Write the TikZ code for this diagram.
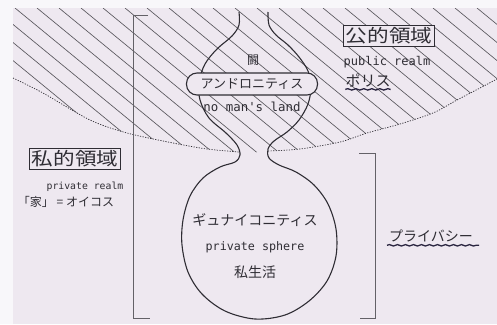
\documentclass[tikz,border=0pt]{standalone}
\usepackage{fontspec}
\setmonofont{DejaVu Sans Mono}
\newfontfamily\jp{Noto Sans CJK JP}
\newfontfamily\jpw[FakeStretch=1.2]{Noto Sans CJK JP}
\usetikzlibrary{decorations.pathmorphing}
\definecolor{paper}{HTML}{EEE8F0}
\definecolor{margin}{HTML}{F8F7FA}
\definecolor{ink}{HTML}{2F2D34}
\definecolor{navy}{HTML}{2A2540}
\begin{document}
\begin{tikzpicture}[x=1pt,y=-1pt,
  hatch/.style={draw=ink!80, line width=0.65pt},
  dotline/.style={draw=ink, line width=0.7pt, dash pattern=on 1.2pt off 1.4pt},
  outline/.style={draw=ink, line width=1.1pt},
  bracket/.style={draw=ink!75, line width=0.7pt},
  title/.style={draw=ink, line width=0.7pt, fill=paper, inner sep=2pt, text=ink, font=\jpw\fontsize{18}{18}\selectfont},
  jptext/.style={inner sep=0pt, text=ink},
  monotext/.style={inner sep=0pt, text=ink},
  pill/.style={draw=ink, line width=1.1pt, fill=paper, rounded corners=10.5pt, minimum width=131pt, minimum height=22pt, inner sep=0pt, text=ink, font=\jp\fontsize{13}{13}\selectfont},
  wavy/.style={draw=navy, line width=1.3pt, decorate, decoration={snake, amplitude=0.7pt, segment length=8pt}}
]
\useasboundingbox (0,0) rectangle (497,324);
\fill[margin] (0,0) rectangle (497,324);
\fill[paper] (13,8) rectangle (497,324);

% hatched public realm
\begin{scope}
\clip (13,8) -- plot[smooth] coordinates {(13,78) (43,93) (90,120) (127,133) (173,143) (207,149) (239,152) (253,152.5) (268,151) (300,149) (340,142) (367,133) (400,124) (433,113) (457,100) (480,88) (497,79)} -- (497,8) -- cycle;
\foreach \k in {-5,...,22} \draw[hatch] ({15+22*\k},8) -- ++(420,345);
\end{scope}
\draw[dotline] plot[smooth] coordinates {(13,78) (43,93) (90,120) (127,133) (173,143) (207,149) (239,152)};
\draw[dotline] plot[smooth] coordinates {(268,151) (300,149) (340,142) (367,133) (400,124) (433,113) (457,100) (480,88) (497,79)};

% brackets
\draw[bracket] (148,15) -- (133,15) -- (133,318) -- (150,318);
\draw[bracket] (359,153) -- (375,153) -- (375,318) -- (360,318);

% bulb outline
\draw[outline] plot[smooth, tension=0.55] coordinates {(239,12) (239,25) (232,36) (217,49) (205,64) (199,82) (200,100) (209,118) (226,133) (237,145) (240,155) (235,162) (220,167) (203,178) (190,196) (183,220) (182,245) (188,272) (202,294) (225,311) (255,319) (285,315) (309,301) (327,281) (336,256) (336,229) (328,204) (314,185) (296,172) (279,165) (269,158) (268,149) (274,141) (287,132) (299,120) (308,104) (311,87) (308,71) (299,57) (288,45) (276,35) (269,25) (268,12)};

% texts
\node[jptext, font=\jp\fontsize{12}{12}\selectfont] (tou) at (253,60) {闘};
\node[pill] (andro) at (252,84) {アンドロニティス};
\node[monotext, font=\ttfamily\fontsize{12.4}{12.4}\selectfont] (nml) at (252,107) {no man's land};

\node[title] (public) at (389,36) {公的領域};
\node[monotext, font=\ttfamily\fontsize{12}{12}\selectfont] (pubr) at (387,62) {public realm};
\node[jptext, font=\jp\fontsize{15}{15}\selectfont] (polis) at (368,80) {ポリス};
\draw[wavy] ([yshift=-2.5pt]polis.south west) -- ([yshift=-2.5pt]polis.south east);

\node[title] (private) at (75,159) {私的領域};
\node[monotext, font=\ttfamily\fontsize{9.8}{9.8}\selectfont] (privr) at (85,187) {private realm};
\node[jptext, font=\jp\fontsize{12}{12}\selectfont] (oikos) at (66,202) {「家」 = オイコス};

\node[jptext, font=\jp\fontsize{14}{14}\selectfont] (gyn) at (255,220) {ギュナイコニティス};
\node[monotext, font=\ttfamily\fontsize{11.7}{11.7}\selectfont] (psph) at (255,247) {private sphere};
\node[jptext, font=\jp\fontsize{14}{14}\selectfont] (shi) at (255,272) {私生活};

\node[jptext, font=\jp\fontsize{14}{14}\selectfont] (priv) at (431,236) {プライバシー};
\draw[wavy] ([yshift=-3pt,xshift=-2pt]priv.south west) -- ([yshift=-3pt,xshift=6pt]priv.south east);
\end{tikzpicture}
\end{document}
